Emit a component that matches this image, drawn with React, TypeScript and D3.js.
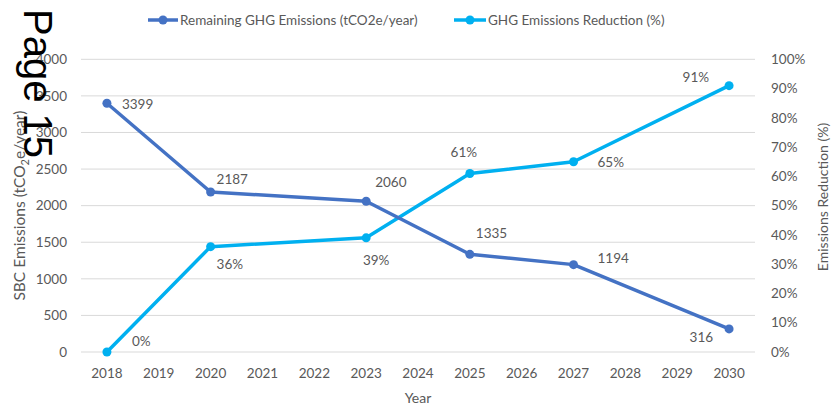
import React from 'react';
import * as d3 from 'd3';

const years = ['2018', '2019', '2020', '2021', '2022', '2023', '2024', '2025', '2026', '2027', '2028', '2029', '2030'];
const pointYears = ['2018', '2020', '2023', '2025', '2027', '2030'];
const remaining = [3399, 2187, 2060, 1335, 1194, 316];
const reduction = [0, 36, 39, 61, 65, 91];
const leftTicks = [0, 500, 1000, 1500, 2000, 2500, 3000, 3500, 4000];
const rightTicks = [0, 10, 20, 30, 40, 50, 60, 70, 80, 90, 100];

// label offsets (dx, dy, anchor), Excel style placement
const remainingLabelPos: [number, number, string][] = [
  [15, 1, 'start'], [6, -13, 'start'], [9, -19, 'start'], [6, -21, 'start'], [24, -6, 'start'], [-16, 8, 'end'],
];
const reductionLabelPos: [number, number, string][] = [
  [25, -11, 'start'], [6, 18, 'start'], [10, 22, 'middle'], [-6, -21, 'middle'], [24, 1, 'start'], [-20, -8, 'end'],
];

const DARK = '#4472C4';
const CYAN = '#00B0F0';
const GREY = '#595959';
const FONT = 'Lato, sans-serif';

export default function App() {
  const width = 832;
  const height = 406;
  const left = 81, right = 755, top = 59.3, bottom = 352;

  const x = d3.scaleBand<string>().domain(years).range([left, right]).padding(0);
  const cx = (y: string) => (x(y) ?? 0) + x.bandwidth() / 2;
  const yL = d3.scaleLinear().domain([0, 4000]).range([bottom, top]);
  const yR = d3.scaleLinear().domain([0, 100]).range([bottom, top]);

  const lineL = d3.line<number>().x((_, i) => cx(pointYears[i])).y(d => yL(d));
  const lineR = d3.line<number>().x((_, i) => cx(pointYears[i])).y(d => yR(d));

  return (
    <svg width={width} height={height} style={{ position: 'absolute', left: 0, top: 0, background: '#fff' }} fontFamily={FONT}>
      {/* gridlines */}
      {leftTicks.map(t => (
        <line key={t} x1={left} x2={right} y1={yL(t)} y2={yL(t)} stroke="#D9D9D9" strokeWidth={1} />
      ))}

      {/* left ticks */}
      {leftTicks.map(t => (
        <text key={t} x={67} y={yL(t)} dy="0.35em" textAnchor="end" fontSize={13.5} fill={GREY}>{t}</text>
      ))}
      {/* right ticks */}
      {rightTicks.map(t => (
        <text key={t} x={771} y={yR(t)} dy="0.35em" textAnchor="start" fontSize={13.5} fill={GREY}>{t}%</text>
      ))}
      {/* x ticks */}
      {years.map(y => (
        <text key={y} x={cx(y)} y={373} dy="0.35em" textAnchor="middle" fontSize={13.5} fill={GREY}>{y}</text>
      ))}

      {/* axis titles */}
      <text x={(left + right) / 2} y={398} dy="0.35em" textAnchor="middle" fontSize={14} fill={GREY}>Year</text>
      <text transform={`translate(20,${(top + bottom) / 2}) rotate(-90)`} dy="0.35em" textAnchor="middle" fontSize={15.5} fill={GREY}>
        SBC Emissions (tCO<tspan fontSize={11} dy="4">2</tspan><tspan dy="-4">e/year)</tspan>
      </text>
      <text transform={`translate(823,197) rotate(-90)`} dy="0.35em" textAnchor="middle" fontSize={14} fill={GREY}>Emissions Reduction (%)</text>

      {/* series lines */}
      <path d={lineR(reduction) ?? ''} fill="none" stroke={CYAN} strokeWidth={3.5} strokeLinejoin="round" />
      <path d={lineL(remaining) ?? ''} fill="none" stroke={DARK} strokeWidth={3.5} strokeLinejoin="round" />
      {reduction.map((v, i) => (
        <circle key={'r' + i} cx={cx(pointYears[i])} cy={yR(v)} r={4.5} fill={CYAN} />
      ))}
      {remaining.map((v, i) => (
        <circle key={'l' + i} cx={cx(pointYears[i])} cy={yL(v)} r={4.5} fill={DARK} />
      ))}

      {/* data labels */}
      {remaining.map((v, i) => (
        <text key={'lt' + i} x={cx(pointYears[i]) + remainingLabelPos[i][0]} y={yL(v) + remainingLabelPos[i][1]} dy="0.35em"
          textAnchor={remainingLabelPos[i][2]} fontSize={13.5} fill={GREY}>{v}</text>
      ))}
      {reduction.map((v, i) => (
        <text key={'rt' + i} x={cx(pointYears[i]) + reductionLabelPos[i][0]} y={yR(v) + reductionLabelPos[i][1]} dy="0.35em"
          textAnchor={reductionLabelPos[i][2]} fontSize={13.5} fill={GREY}>{v}%</text>
      ))}

      {/* legend */}
      <line x1={148} x2={178} y1={20} y2={20} stroke={DARK} strokeWidth={3.5} />
      <circle cx={163} cy={20} r={4.5} fill={DARK} />
      <text x={180} y={20} dy="0.35em" fontSize={13.5} fill={GREY}>Remaining GHG Emissions (tCO2e/year)</text>
      <line x1={454} x2={486} y1={20} y2={20} stroke={CYAN} strokeWidth={3.5} />
      <circle cx={470} cy={20} r={4.5} fill={CYAN} />
      <text x={488} y={20} dy="0.35em" fontSize={13.5} fill={GREY}>GHG Emissions Reduction (%)</text>

      {/* page stamp overlaid on the scan */}
      <text transform="translate(24,9) rotate(90)" fontSize={40} fill="#000" fontFamily="'Liberation Sans', Arial, sans-serif">Page 15</text>
    </svg>
  );
}
